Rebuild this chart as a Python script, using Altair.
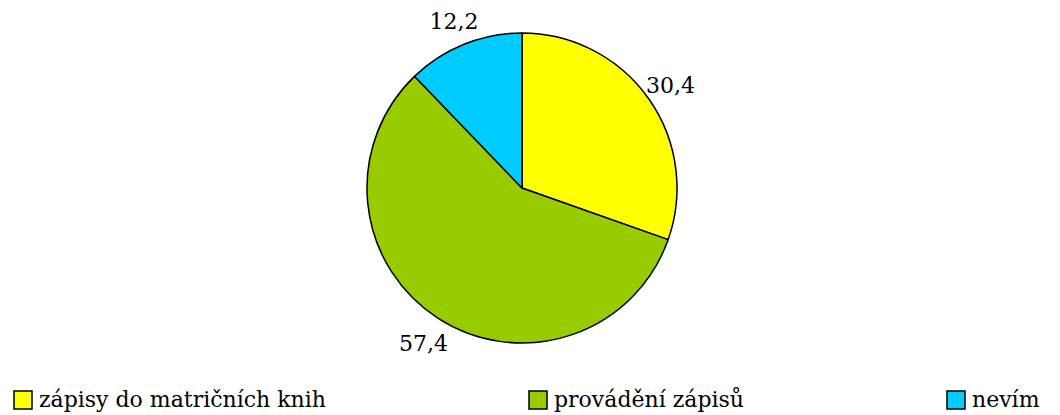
import altair as alt
import pandas as pd

categories = ["zápisy do matričních knih", "provádění zápisů", "nevím"]
values = [30.4, 57.4, 12.2]
labels = ["30,4", "57,4", "12,2"]
colors = ["#FFFF00", "#99CC00", "#00CCFF"]

df = pd.DataFrame({
    "kategorie": categories,
    "hodnota": values,
    "popisek": labels,
    "poradi": list(range(len(categories))),
})

FONT = "DejaVu Serif"

base = alt.Chart(df).encode(
    theta=alt.Theta("hodnota:Q", stack=True),
    order=alt.Order("poradi:Q"),
)

arcs = base.mark_arc(outerRadius=155, stroke="black", strokeWidth=1.5).encode(
    color=alt.Color(
        "kategorie:N",
        scale=alt.Scale(domain=categories, range=colors),
        sort=categories,
        legend=alt.Legend(
            title=None,
            orient="none",
            legendX=4,
            legendY=381,
            direction="horizontal",
            columns=3,
            columnPadding=200,
            symbolType="square",
            symbolSize=324,
            symbolStrokeColor="black",
            symbolStrokeWidth=1.5,
            symbolOpacity=1,
            labelFont=FONT,
            labelFontSize=22,
            labelColor="black",
            labelOffset=5,
            labelLimit=600,
            padding=0,
        ),
    )
)

texts = base.mark_text(radius=182, dy=3, font=FONT, fontSize=22, color="black",
                       align="center", baseline="middle").encode(
    text="popisek:N"
)

chart = (arcs + texts).properties(
    width=1028,
    height=360,
    padding={"left": 0, "top": 0, "right": 16, "bottom": 46},
    autosize=alt.AutoSizeParams(type="none"),
).configure_view(stroke=None)

chart.save("out.html", embed_options={"renderer": "svg", "actions": False})
